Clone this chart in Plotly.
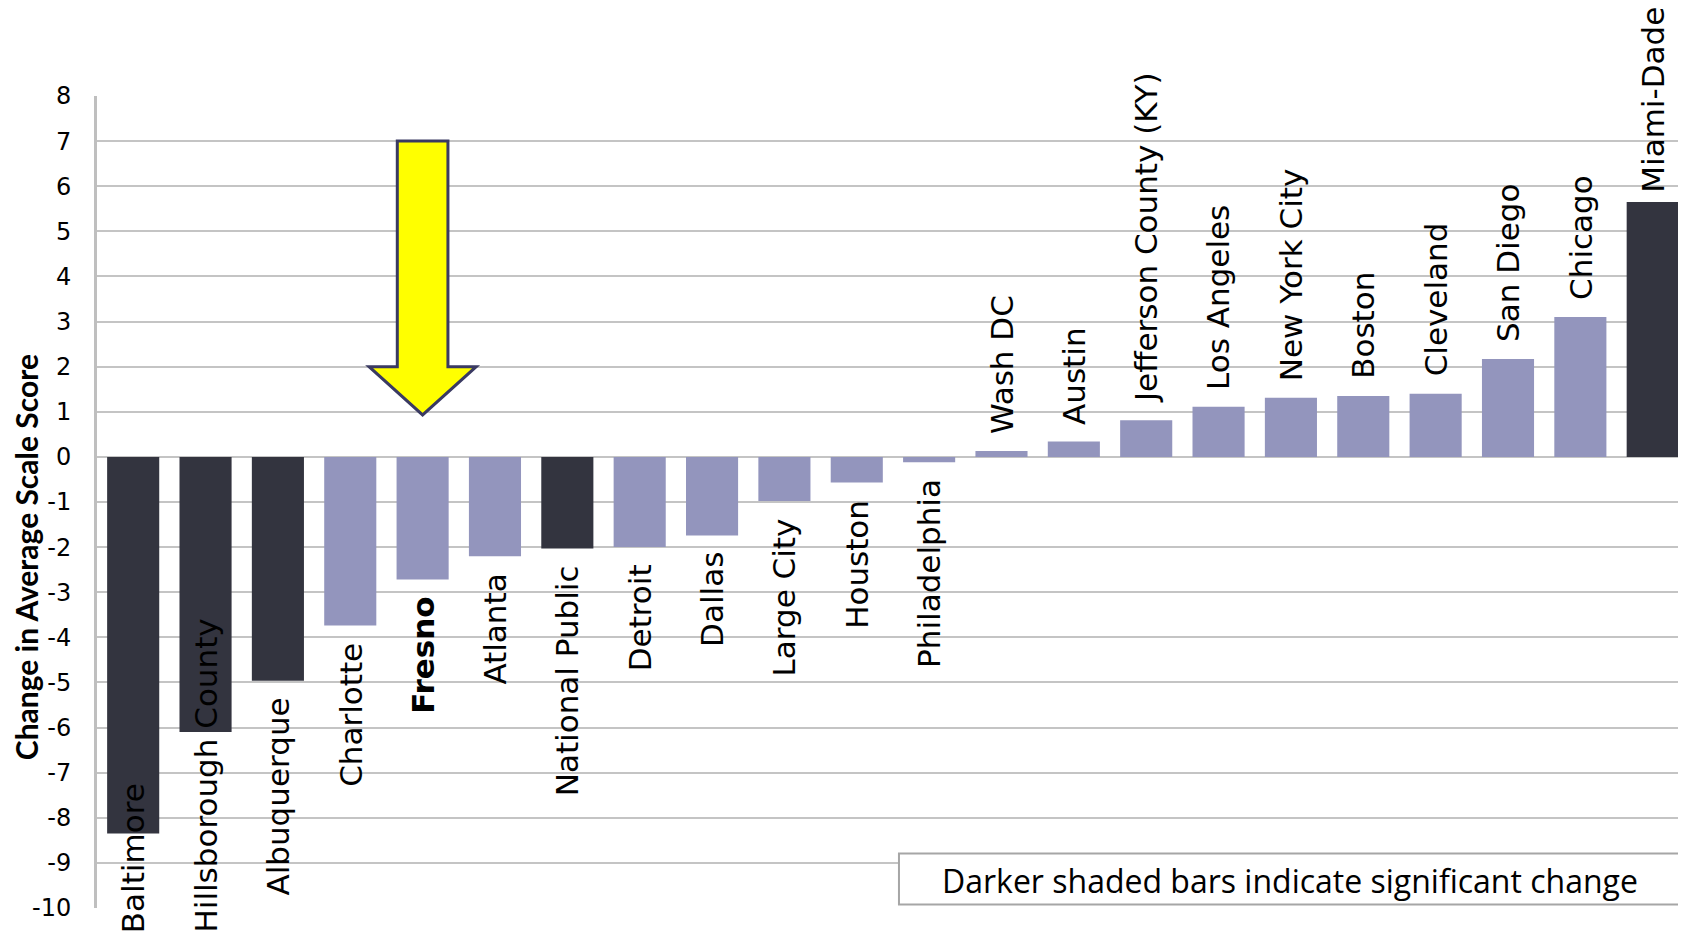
import plotly.graph_objects as go

categories = ["Baltimore", "Hillsborough County", "Albuquerque", "Charlotte", "Fresno",
              "Atlanta", "National Public", "Detroit", "Dallas", "Large City", "Houston",
              "Philadelphia", "Wash DC", "Austin", "Jefferson County (KY)", "Los Angeles",
              "New York City", "Boston", "Cleveland", "San Diego", "Chicago", "Miami-Dade"]
changes = [-8.35, -6.10, -4.96, -3.74, -2.72, -2.20, -2.03, -2.00, -1.74, -0.98, -0.57,
           -0.12, 0.13, 0.34, 0.81, 1.11, 1.31, 1.35, 1.40, 2.17, 3.10, 5.65]
significant = [True, True, True, False, False, False, True, False, False, False, False,
               False, False, False, False, False, False, False, False, False, False, True]
y_tick_values = list(range(-10, 9))
y_tick_labels = [str(v) for v in y_tick_values]
highlight = "Fresno"
clamp_bottom = ["Baltimore", "Hillsborough County"]
clamp_top = ["Miami-Dade"]

DARK = "#33343F"
LIGHT = "#9395BD"
GRID = "#C4C4C4"
LABEL_FONT = "DejaVu Sans"

# page body has an 8px margin, so the figure is drawn 8px right/down
W, H = 1678, 928
M_L, M_R, M_T, M_B = 89, 0, 88, 28

positions = list(range(len(categories)))
colors = [DARK if s else LIGHT for s in significant]

fig = go.Figure()
fig.add_trace(go.Bar(
    x=positions, y=changes, marker=dict(color=colors, line=dict(width=0)),
    width=0.72, hoverinfo="x+y", showlegend=False,
))

annotations = []
for i, (cat, val) in enumerate(zip(categories, changes)):
    txt = f"<b>{cat}</b>" if cat == highlight else cat
    common = dict(x=i, xref="x", text=txt, textangle=-90, showarrow=False,
                  font=dict(family=LABEL_FONT, size=31, color="#000000"),
                  xanchor="center")
    if cat in clamp_bottom:
        annotations.append(dict(**common, yref="paper", y=0, yanchor="bottom", yshift=-M_B + 1))
    elif cat in clamp_top:
        annotations.append(dict(**common, yref="paper", y=1, yanchor="top", yshift=M_T + 3))
    elif val >= 0:
        annotations.append(dict(**common, yref="y", y=val, yanchor="bottom", yshift=15))
    else:
        annotations.append(dict(**common, yref="y", y=val, yanchor="top", yshift=-15))

# y-axis title
annotations.append(dict(
    text="<b>Change in Average Scale Score</b>", textangle=-90, showarrow=False,
    xref="paper", yref="paper", x=0, y=0.432, xanchor="center", yanchor="middle",
    xshift=-71, font=dict(family="Lato", size=30, color="#000000"),
))

# note box text
annotations.append(dict(
    text="Darker shaded bars indicate significant change", showarrow=False,
    xref="paper", yref="paper", x=0.751, y=0.034, xanchor="center", yanchor="middle",
    font=dict(family="Open Sans", size=32, color="#000000"),
))

# arrow pointing at highlighted bar
fi = categories.index(highlight)
shaft_half, head_half = 0.35, 0.74
top_v, head_base_v, tip_v = 7, 2, 0.93
arrow_path = (f"M {fi - shaft_half},{top_v} L {fi + shaft_half},{top_v} "
              f"L {fi + shaft_half},{head_base_v} L {fi + head_half},{head_base_v} "
              f"L {fi},{tip_v} L {fi - head_half},{head_base_v} "
              f"L {fi - shaft_half},{head_base_v} Z")

shapes = [
    dict(type="path", path=arrow_path, xref="x", yref="y",
         fillcolor="#FFFF00", line=dict(color="#3A3A62", width=3), layer="above"),
    dict(type="rect", xref="paper", yref="paper", x0=0.5047, x1=0.9969, y0=0.0043, y1=0.0672,
         fillcolor="#FFFFFF", line=dict(color="#A6A6A6", width=2), layer="above"),
]

fig.update_layout(
    width=W, height=H,
    margin=dict(l=M_L, r=M_R, t=M_T, b=M_B, pad=0),
    paper_bgcolor="#FFFFFF", plot_bgcolor="#FFFFFF",
    annotations=annotations,
    shapes=shapes,
    xaxis=dict(range=[-0.5, 21.46], showticklabels=False, showgrid=False, zeroline=False,
               showline=False, ticks="", fixedrange=True),
    yaxis=dict(range=[-10, 8], tickvals=y_tick_values, ticktext=y_tick_labels,
               showgrid=True, gridcolor=GRID, gridwidth=1.5,
               zeroline=True, zerolinecolor=GRID, zerolinewidth=1.5,
               showline=True, linecolor="#BFBFBF", linewidth=3,
               ticks="", ticklabelstandoff=18,
               tickfont=dict(family=LABEL_FONT, size=24, color="#000000")),
)

fig.write_html("out.html")
